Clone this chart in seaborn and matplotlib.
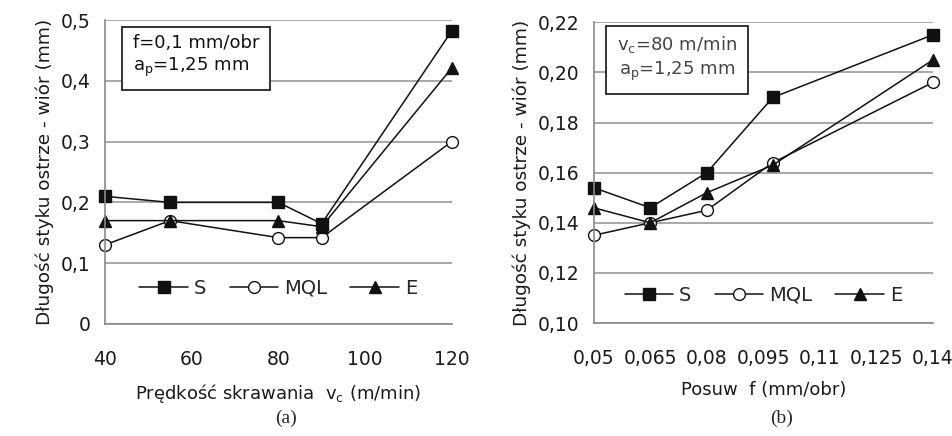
import pandas as pd
import matplotlib
matplotlib.use("Agg")
import matplotlib.pyplot as plt
import seaborn as sns

# dane
vc = [40, 55, 80, 90, 120]
vc_S = [0.21, 0.20, 0.20, 0.165, 0.482]
vc_MQL = [0.13, 0.17, 0.142, 0.142, 0.30]
vc_E = [0.17, 0.17, 0.17, 0.16, 0.421]

f = [0.05, 0.065, 0.08, 0.0975, 0.14]
f_S = [0.154, 0.146, 0.160, 0.190, 0.215]
f_MQL = [0.135, 0.140, 0.145, 0.164, 0.196]
f_E = [0.146, 0.140, 0.152, 0.163, 0.205]

series = ["S", "MQL", "E"]
xticks_a = [40, 60, 80, 100, 120]
yticks_a = [0, 0.1, 0.2, 0.3, 0.4, 0.5]
xticks_b = [0.05, 0.065, 0.08, 0.095, 0.11, 0.125, 0.14]
yticks_b = [0.10, 0.12, 0.14, 0.16, 0.18, 0.20, 0.22]

sns.set_style("white")
plt.rcParams['font.family'] = ['DejaVu Sans']
plt.rcParams['mathtext.fontset'] = 'dejavusans'

style = {
    "S": dict(marker="s", markerfacecolor="#111111", markersize=8.5),
    "MQL": dict(marker="o", markerfacecolor="white", markersize=8.5),
    "E": dict(marker="^", markerfacecolor="#111111", markersize=8.5),
}

fig = plt.figure(figsize=(9.53, 4.36), dpi=100)
ax1 = fig.add_axes([0.110, 0.257, 0.364, 0.697])
ax2 = fig.add_axes([0.623, 0.259, 0.356, 0.690])


def draw(ax, x, ys):
    for name, y in zip(series, ys):
        df = pd.DataFrame({"x": x, "y": y})
        sns.lineplot(data=df, x="x", y="y", ax=ax, color="#111111", lw=1.1,
                     markeredgecolor="#111111", markeredgewidth=1.0,
                     label=name, clip_on=False, **style[name])


def fmt(v, nd):
    return (f"{v:.{nd}f}").replace(".", ",") if nd else f"{v:g}".replace(".", ",")


draw(ax1, vc, [vc_S, vc_MQL, vc_E])
draw(ax2, f, [f_S, f_MQL, f_E])

for ax in (ax1, ax2):
    ax.grid(axis="y", color="#9a9a9a", lw=1.2)
    ax.set_axisbelow(True)
    for s in ("top", "right"):
        ax.spines[s].set_visible(False)
    for s in ("left", "bottom"):
        ax.spines[s].set_color("#8a8a8a")
        ax.spines[s].set_linewidth(1.2)
    ax.tick_params(axis="both", direction="out", length=5, width=1.2,
                   color="#8a8a8a", labelsize=13.5, labelcolor="#1a1a1a", pad=5)
    ax.tick_params(axis="x", pad=14)
    ax.set_ylabel("Długość styku ostrze - wiór (mm)", fontsize=13.3, color="#1a1a1a", labelpad=5)

ax1.set_xlim(40, 120)
ax1.set_ylim(0, 0.5)
ax1.set_xticks(xticks_a)
ax1.set_xticklabels([fmt(v, 0) for v in xticks_a])
ax1.set_yticks(yticks_a)
ax1.set_yticklabels([fmt(v, 0) for v in yticks_a])
ax1.set_xlabel(r"Prędkość skrawania  v$_\mathregular{c}$ (m/min)", fontsize=13,
               color="#1a1a1a", labelpad=9)

ax2.set_xlim(0.05, 0.14)
ax2.set_ylim(0.10, 0.22)
ax2.set_xticks(xticks_b)
ax2.set_xticklabels([fmt(v, 0) for v in xticks_b])
ax2.set_yticks(yticks_b)
ax2.set_yticklabels([fmt(v, 2) for v in yticks_b])
ax2.set_xlabel("Posuw  f (mm/obr)", fontsize=13, color="#1a1a1a", labelpad=9)

for ax, yb in ((ax1, 0.06), (ax2, 0.035)):
    ax.legend(loc="lower center", bbox_to_anchor=(0.5, yb), ncol=3, frameon=False,
              fontsize=14, handlelength=2.5, columnspacing=1.2, handletextpad=0.3,
              borderaxespad=0)

ax1.text(0.08, 0.88, "f=0,1 mm/obr\n" + r"a$_\mathregular{p}$=1,25 mm",
         transform=ax1.transAxes, ha="left", va="center", fontsize=13,
         linespacing=1.3, color="#111111",
         bbox=dict(boxstyle="square,pad=0.6", facecolor="white", edgecolor="#111111", lw=1.2))
ax2.text(0.245, 0.88, r"v$_\mathregular{c}$=80 m/min" + "\n" + r"a$_\mathregular{p}$=1,25 mm",
         transform=ax2.transAxes, ha="center", va="center", fontsize=13,
         linespacing=1.3, color="#444444",
         bbox=dict(boxstyle="square,pad=0.6", facecolor="white", edgecolor="#111111", lw=1.2))

fig.text(286 / 953, 1 - 418 / 436, "(a)", family="Liberation Serif", fontsize=14,
         ha="center", va="center")
fig.text(782 / 953, 1 - 418 / 436, "(b)", family="Liberation Serif", fontsize=14,
         ha="center", va="center")

fig.savefig("out.png", dpi=100)
